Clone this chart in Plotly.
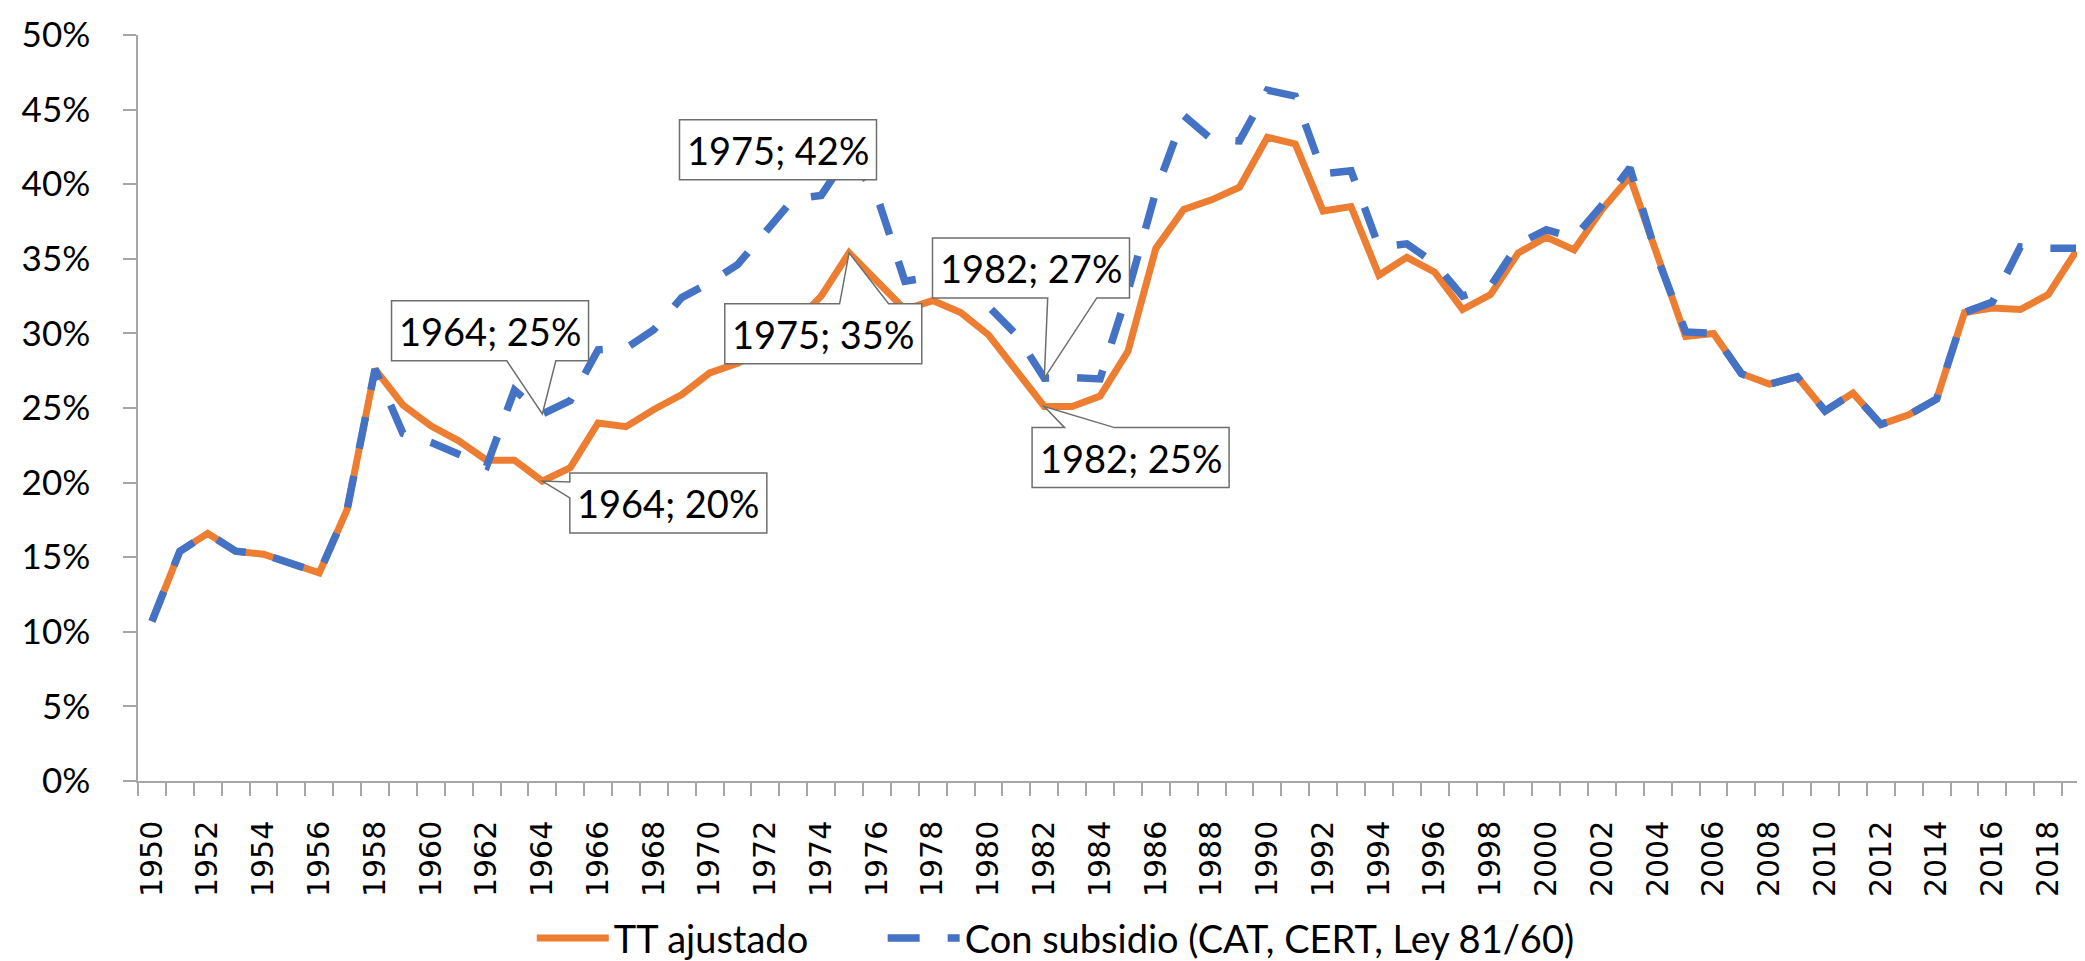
import plotly.graph_objects as go

# ---------------- data ----------------
years = list(range(1950, 2020))

tt_ajustado = [
    10.7, 15.4, 16.6, 15.4, 15.2, 14.6, 13.95, 18.2, 27.6, 25.2,   # 1950-1959
    23.8, 22.8, 21.5, 21.5, 20.1, 21.0, 24.0, 23.75, 24.9, 25.9,   # 1960-1969
    27.35, 28.0, 29.0, 30.6, 32.5, 35.4, 33.5, 31.6, 32.2, 31.4,   # 1970-1979
    29.9, 27.5, 25.1, 25.1, 25.8, 28.8, 35.7, 38.3, 38.95, 39.8,   # 1980-1989
    43.15, 42.7, 38.2, 38.5, 33.9, 35.1, 34.1, 31.6, 32.6, 35.4,   # 1990-1999
    36.45, 35.6, 38.3, 40.5, 35.0, 29.8, 30.0, 27.3, 26.6, 27.1,   # 2000-2009
    24.8, 26.0, 23.9, 24.55, 25.6, 31.4, 31.7, 31.6, 32.6, 35.5,   # 2010-2019
]

con_subsidio = [
    10.7, 15.4, 16.6, 15.4, 15.2, 14.6, 13.95, 18.2, 27.6, 23.3,   # 1950-1959
    22.7, 21.9, 21.1, 26.2, 24.6, 25.5, 28.9, 29.0, 30.25, 32.4,   # 1960-1969
    33.4, 34.6, 36.8, 39.0, 39.25, 42.05, 39.2, 33.5, 33.8, 33.6,  # 1970-1979
    31.8, 29.9, 27.0, 27.05, 26.95, 32.8, 39.5, 44.6, 43.0, 42.9,  # 1980-1989
    46.3, 45.9, 40.7, 40.9, 35.8, 36.0, 34.7, 32.5, 33.15, 36.0,   # 1990-1999
    36.95, 36.4, 38.6, 41.1, 35.0, 30.1, 30.0, 27.3, 26.6, 27.1,   # 2000-2009
    24.8, 26.0, 23.9, 24.55, 25.6, 31.4, 32.1, 35.8, 35.7, 35.7,   # 2010-2019
]

series_names = ["TT ajustado", "Con subsidio (CAT, CERT, Ley 81/60)"]

y_tickvals = list(range(0, 51, 5))
y_ticktext = [f"{v}%" for v in y_tickvals]
x_tickvals = list(range(1950, 2019, 2))
x_ticktext = [str(v) for v in x_tickvals]

# callouts: (series key, year, box centre dx, dy [px, y down], tail edge, tail base a, b)
callouts = [
    ("sub", 1964, -52.3, -83.1, "bottom", -35.5, 13.5),
    ("tt", 1964, 126.0, 21.8, "left", 0.8, 16.8),
    ("sub", 1975, -71.1, -3.8, None, 0, 0),
    ("tt", 1975, -25.8, 81.0, "top", -9.5, 39.5),
    ("sub", 1982, -13.3, -110.2, "bottom", 3.4, 52.5),
    ("tt", 1982, 86.3, 51.1, "top", 20.3, 70.3),
]

# ---------------- style ----------------
ORANGE = "#ED7D31"
BLUE = "#4472C4"
AXIS = "#A6A6A6"
BOXLINE = "#6E6E6E"
TXT_FONT = "Lato"
BOX_W, BOX_H = 197, 60

fig = go.Figure()
fig.add_trace(go.Scatter(x=years, y=tt_ajustado, mode="lines", name=series_names[0],
                         line=dict(color=ORANGE, width=7), legend="legend", showlegend=True))
fig.add_trace(go.Scatter(x=years, y=con_subsidio, mode="lines", name=series_names[1],
                         line=dict(color=BLUE, width=7.5, dash="32px,28px"), legend="legend2",
                         showlegend=True))

data_map = {"tt": tt_ajustado, "sub": con_subsidio}
shapes = []
annotations = []
for key, yr, dx, dy, edge, a, b in callouts:
    val = data_map[key][years.index(yr)]
    L, R = dx - BOX_W / 2, dx + BOX_W / 2
    T, B = dy - BOX_H / 2, dy + BOX_H / 2
    pts = [(L, T)]
    if edge == "top":
        pts += [(a, T), (0, 0), (b, T)]
    pts += [(R, T), (R, B)]
    if edge == "bottom":
        pts += [(b, B), (0, 0), (a, B)]
    pts += [(L, B)]
    if edge == "left":
        pts += [(L, b), (0, 0), (L, a)]
    path = "M " + " L ".join(f"{px:.1f},{-py:.1f}" for px, py in pts) + " Z"
    shapes.append(dict(type="path", xref="x", yref="y", xsizemode="pixel", ysizemode="pixel",
                       xanchor=yr, yanchor=val, path=path, fillcolor="white",
                       line=dict(color=BOXLINE, width=1.5), layer="above"))
    annotations.append(dict(x=yr, y=val, xref="x", yref="y", xshift=dx, yshift=-dy,
                            text=f"{yr}; {round(val)}%", showarrow=False,
                            xanchor="center", yanchor="middle",
                            font=dict(family=TXT_FONT, size=38, color="black")))

legend_common = dict(orientation="h", xref="container", yref="container", xanchor="left",
                     y=0.032, yanchor="middle", font=dict(family=TXT_FONT, size=38, color="black"),
                     itemwidth=72, bgcolor="rgba(0,0,0,0)", visible=True)

fig.update_layout(
    width=2085, height=961,
    margin=dict(l=130, r=3, t=27, b=188),
    plot_bgcolor="white", paper_bgcolor="white",
    font=dict(family=TXT_FONT, color="black"),
    showlegend=True,
    shapes=shapes, annotations=annotations,
    xaxis=dict(range=[1949.5, 2019.5], tickmode="array", tickvals=x_tickvals, ticktext=x_ticktext,
               tickangle=-90, ticks="", showline=True, linecolor=AXIS, linewidth=1.5,
               showgrid=False, zeroline=False, ticklabelstandoff=26,
               tickfont=dict(family="DejaVu Sans", size=30, color="black"),
               minor=dict(ticks="outside", ticklen=13, tickcolor=AXIS, tickwidth=1.5,
                          tickmode="linear", tick0=1949.5, dtick=1, showgrid=False)),
    yaxis=dict(range=[0, 50], tickmode="array", tickvals=y_tickvals, ticktext=y_ticktext,
               ticks="outside", ticklen=13, tickcolor=AXIS, tickwidth=1.5,
               showline=True, linecolor=AXIS, linewidth=1.5, showgrid=False, zeroline=False,
               ticklabelstandoff=26, tickfont=dict(family=TXT_FONT, size=35, color="black")),
    legend=dict(x=0.2512, **legend_common),
    legend2=dict(x=0.4195, **legend_common),
)

fig.write_html("out.html")
